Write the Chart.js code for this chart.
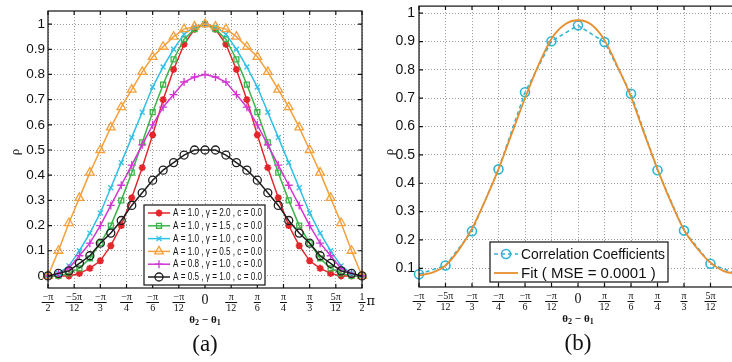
<!DOCTYPE html>
<html>
<head>
<meta charset="utf-8">
<script src="https://cdn.jsdelivr.net/npm/chart.js@4.4.1/dist/chart.umd.min.js"></script>
<style>
  html, body { margin: 0; padding: 0; background: #fff; }
  #wrap { position: relative; width: 732px; height: 362px; overflow: hidden; }
  #chartA { position: absolute; left: 0; top: 0; }
  #chartB { position: absolute; left: 360px; top: 0; }
</style>
</head>
<body>
<div id="wrap">
  <canvas id="chartA" width="380" height="362"></canvas>
  <canvas id="chartB" width="390" height="362"></canvas>
</div>
<script>
// θ2 - θ1 in degrees, panel (a)
const thetaA = [-90, -84, -78, -72, -66, -60, -54, -48, -42, -36, -30, -24, -18, -12, -6, 0,
  6, 12, 18, 24, 30, 36, 42, 48, 54, 60, 66, 72, 78, 84, 90];
const rhoG20 = [0, 0, 0, 0.01, 0.03, 0.06, 0.12, 0.2, 0.31, 0.43, 0.56, 0.7, 0.82, 0.92, 0.98, 1,
  0.98, 0.92, 0.82, 0.7, 0.56, 0.43, 0.31, 0.2, 0.12, 0.06, 0.03, 0.01, 0, 0, 0];
const rhoG15 = [0, 0, 0.01, 0.03, 0.07, 0.13, 0.2, 0.3, 0.41, 0.53, 0.65, 0.76, 0.86, 0.94, 0.98, 1,
  0.98, 0.94, 0.86, 0.76, 0.65, 0.53, 0.41, 0.3, 0.2, 0.13, 0.07, 0.03, 0.01, 0, 0];
const rhoG10 = [0, 0.01, 0.04, 0.1, 0.17, 0.25, 0.35, 0.45, 0.55, 0.65, 0.75, 0.83, 0.9, 0.96, 0.99, 1,
  0.99, 0.96, 0.9, 0.83, 0.75, 0.65, 0.55, 0.45, 0.35, 0.25, 0.17, 0.1, 0.04, 0.01, 0];
const rhoG05 = [0, 0.1, 0.21, 0.31, 0.41, 0.5, 0.59, 0.67, 0.74, 0.81, 0.87, 0.91, 0.95, 0.98, 0.99, 1,
  0.99, 0.98, 0.95, 0.91, 0.87, 0.81, 0.74, 0.67, 0.59, 0.5, 0.41, 0.31, 0.21, 0.1, 0];
const rhoA08 = [0, 0.01, 0.03, 0.08, 0.13, 0.2, 0.28, 0.36, 0.44, 0.52, 0.6, 0.67, 0.72, 0.77, 0.79, 0.8,
  0.79, 0.77, 0.72, 0.67, 0.6, 0.52, 0.44, 0.36, 0.28, 0.2, 0.13, 0.08, 0.03, 0.01, 0];
const rhoA05 = [0, 0.01, 0.02, 0.05, 0.08, 0.13, 0.17, 0.22, 0.28, 0.33, 0.38, 0.42, 0.45, 0.48, 0.5, 0.5,
  0.5, 0.48, 0.45, 0.42, 0.38, 0.33, 0.28, 0.22, 0.17, 0.13, 0.08, 0.05, 0.02, 0.01, 0];
const labelsA = [
  'A = 1.0 , γ = 2.0 , c = 0.0',
  'A = 1.0 , γ = 1.5 , c = 0.0',
  'A = 1.0 , γ = 1.0 , c = 0.0',
  'A = 1.0 , γ = 0.5 , c = 0.0',
  'A = 0.8 , γ = 1.0 , c = 0.0',
  'A = 0.5 , γ = 1.0 , c = 0.0'
];

// panel (b)
const thetaB = [-90, -75, -60, -45, -30, -15, 0, 15, 30, 45, 60, 75, 90];
const corrCoef = [0.079, 0.11, 0.231, 0.449, 0.721, 0.901, 0.957, 0.898, 0.716, 0.446, 0.233, 0.116, 0.08];
const thetaFit = [-90, -82.5, -75, -67.5, -60, -52.5, -45, -37.5, -30, -22.5, -15, -7.5, 0,
  7.5, 15, 22.5, 30, 37.5, 45, 52.5, 60, 67.5, 75, 82.5, 90];
const fitVals = [0.075, 0.085, 0.11, 0.165, 0.24, 0.34, 0.45, 0.575, 0.7, 0.815, 0.91, 0.96, 0.975,
  0.96, 0.905, 0.81, 0.705, 0.575, 0.45, 0.335, 0.235, 0.17, 0.12, 0.09, 0.08];
const labelsB = ['Correlation Coefficients', 'Fit ( MSE = 0.0001 )'];

// axis ticks
const tickDeg = [-90, -75, -60, -45, -30, -15, 0, 15, 30, 45, 60, 75, 90];
const tickNum = ['−π', '−5π', '−π', '−π', '−π', '−π', '0', 'π', 'π', 'π', 'π', '5π', '1'];
const tickDen = ['2', '12', '3', '4', '6', '12', '', '12', '6', '4', '3', '12', '2'];
const yTicksA = [0, 0.1, 0.2, 0.3, 0.4, 0.5, 0.6, 0.7, 0.8, 0.9, 1];
const yTicksB = [0.1, 0.2, 0.3, 0.4, 0.5, 0.6, 0.7, 0.8, 0.9, 1];

const pts = (xs, ys) => xs.map((x, i) => ({ x: x, y: ys[i] }));

// frame, inward ticks, fraction labels, titles and the boxed legend
const panelDeco = {
  id: 'panelDeco',
  afterDraw(chart, args, o) {
    const ctx = chart.ctx, a = chart.chartArea;
    const xs = chart.scales.x, ys = chart.scales.y;
    ctx.save();
    ctx.strokeStyle = '#111';
    ctx.lineWidth = 1.2;
    ctx.strokeRect(a.left, a.top, a.right - a.left, a.bottom - a.top);
    ctx.beginPath();
    tickDeg.forEach(d => {
      const p = xs.getPixelForValue(d);
      ctx.moveTo(p, a.bottom); ctx.lineTo(p, a.bottom - 4);
      ctx.moveTo(p, a.top); ctx.lineTo(p, a.top + 4);
    });
    o.yTicks.forEach(v => {
      const p = ys.getPixelForValue(v);
      ctx.moveTo(a.left, p); ctx.lineTo(a.left + 4, p);
      ctx.moveTo(a.right, p); ctx.lineTo(a.right - 4, p);
    });
    ctx.stroke();

    // x tick labels as fractions
    ctx.fillStyle = '#111';
    ctx.textAlign = 'center';
    ctx.textBaseline = 'middle';
    tickDeg.forEach((d, i) => {
      const p = xs.getPixelForValue(d);
      if (tickDen[i] === '') {
        ctx.font = '14px "Liberation Serif"';
        ctx.fillText(tickNum[i], p, a.bottom + 12);
        return;
      }
      ctx.font = '10px "Liberation Serif"';
      const w = Math.max(ctx.measureText(tickNum[i]).width, ctx.measureText(tickDen[i]).width) + 2;
      ctx.fillText(tickNum[i], p, a.bottom + 9);
      ctx.fillText(tickDen[i], p, a.bottom + 20.5);
      ctx.fillRect(p - w / 2, a.bottom + 14, w, 1);
      if (i === tickDeg.length - 1) {
        ctx.textAlign = 'left';
        ctx.font = '13px "DejaVu Serif"';
        ctx.fillText('π', p + w / 2 + 1, a.bottom + 14);
        ctx.textAlign = 'center';
      }
    });

    // axis title θ2 − θ1
    const x0 = xs.getPixelForValue(0), yT = a.bottom + 32;
    const parts = [['θ', 0, 11], ['2', 3, 8], [' − ', 0, 11], ['θ', 0, 11], ['1', 3, 8]];
    let tw = 0;
    parts.forEach(q => { ctx.font = 'bold ' + q[2] + 'px "Liberation Serif"'; tw += ctx.measureText(q[0]).width; });
    let cx = x0 - tw / 2;
    ctx.textAlign = 'left';
    parts.forEach(q => {
      ctx.font = 'bold ' + q[2] + 'px "Liberation Serif"';
      ctx.fillText(q[0], cx, yT + q[1]);
      cx += ctx.measureText(q[0]).width;
    });

    // panel letter
    ctx.textAlign = 'center';
    ctx.font = '23px "Liberation Serif"';
    ctx.fillText(o.letter, x0, a.bottom + 57);

    // rho label
    ctx.save();
    ctx.translate(o.rhoX, 152);
    ctx.rotate(-Math.PI / 2);
    ctx.font = '13px "Liberation Serif"';
    ctx.fillText('ρ', 0, 0);
    ctx.restore();

    // legend
    const L = o.legend;
    ctx.fillStyle = '#fff';
    ctx.fillRect(L.x, L.y, L.w, L.h);
    ctx.strokeStyle = '#111';
    ctx.lineWidth = 1.2;
    ctx.strokeRect(L.x, L.y, L.w, L.h);
    chart.data.datasets.forEach((ds, i) => {
      const y = L.y + L.row0 + i * L.step;
      ctx.strokeStyle = ds.borderColor;
      ctx.lineWidth = ds.borderWidth;
      ctx.setLineDash(ds.borderDash || []);
      ctx.beginPath();
      ctx.moveTo(L.x + 4, y);
      ctx.lineTo(L.x + 4 + L.sample, y);
      ctx.stroke();
      ctx.setLineDash([]);
      if (ds.pointRadius > 0) {
        ctx.fillStyle = ds.pointBackgroundColor;
        ctx.strokeStyle = ds.pointBorderColor;
        ctx.lineWidth = ds.pointBorderWidth;
        Chart.helpers.drawPoint(ctx, { pointStyle: ds.pointStyle, radius: ds.pointRadius, borderWidth: ds.pointBorderWidth, rotation: 0 },
          L.x + 4 + L.sample / 2, y);
      }
      ctx.fillStyle = '#111';
      ctx.textAlign = 'left';
      ctx.font = L.font;
      ctx.fillText(ds.label, L.x + 7 + L.sample, y + 0.5, L.w - L.sample - 10);
    });
    ctx.restore();
  }
};

function lineSet(label, data, color, style, radius, extra) {
  return Object.assign({
    label: label,
    data: data,
    borderColor: color,
    borderWidth: 1.5,
    pointStyle: style,
    pointRadius: radius,
    pointBorderColor: color,
    pointBackgroundColor: 'rgba(0,0,0,0)',
    pointBorderWidth: 1.3,
    tension: 0,
    clip: false
  }, extra || {});
}

function scalesFor(yMin, yMax, yTicks, yWidth, yPad, xHeight, tickFont) {
  return {
    x: {
      type: 'linear', min: -90, max: 90,
      afterBuildTicks: s => { s.ticks = tickDeg.map(v => ({ value: v })); },
      afterFit: s => { s.height = xHeight; s.paddingLeft = 0; s.paddingRight = 0; },
      ticks: { display: false },
      grid: { color: '#9a9a9a', lineWidth: 1, drawTicks: false },
      border: { display: false, dash: [1, 2] }
    },
    y: {
      min: yMin, max: yMax,
      afterBuildTicks: s => { s.ticks = yTicks.map(v => ({ value: v })); },
      afterFit: s => { s.width = yWidth; s.paddingTop = 0; s.paddingBottom = 0; },
      ticks: {
        padding: yPad, color: '#111',
        font: { family: '"Liberation Sans", Arial, sans-serif', size: tickFont },
        callback: v => String(v)
      },
      grid: { color: '#9a9a9a', lineWidth: 1, drawTicks: false },
      border: { display: false, dash: [1, 2] }
    }
  };
}

// panel (a)
new Chart(document.getElementById('chartA'), {
  type: 'line',
  data: {
    datasets: [
      lineSet(labelsA[0], pts(thetaA, rhoG20), '#e3262b', 'star', 3.5, { order: 5, pointBorderWidth: 2 }),
      lineSet(labelsA[1], pts(thetaA, rhoG15), '#3cb44a', 'rect', 3.5, { order: 4 }),
      lineSet(labelsA[2], pts(thetaA, rhoG10), '#2fc0e6', 'crossRot', 3.5, { order: 3 }),
      lineSet(labelsA[3], pts(thetaA, rhoG05), '#f5a03a', 'triangle', 5, { order: 2 }),
      lineSet(labelsA[4], pts(thetaA, rhoA08), '#d236d2', 'cross', 4, { order: 1 }),
      lineSet(labelsA[5], pts(thetaA, rhoA05), '#1e1e1e', 'circle', 4, { order: 0 })
    ]
  },
  options: {
    responsive: false,
    animation: false,
    devicePixelRatio: 1,
    events: [],
    layout: { padding: { left: 0, right: 18, top: 11, bottom: 0 } },
    scales: scalesFor(-0.048, 1.052, yTicksA, 48, 3, 74, 13.5),
    plugins: {
      legend: { display: false },
      tooltip: { enabled: false },
      panelDeco: {
        letter: '(a)', rhoX: 16, yTicks: yTicksA,
        legend: { x: 144, y: 205, w: 121, h: 80, row0: 8, step: 12.8, sample: 22, font: '10px "Liberation Sans"' }
      }
    }
  },
  plugins: [panelDeco]
});

// panel (b)
new Chart(document.getElementById('chartB'), {
  type: 'line',
  data: {
    datasets: [
      lineSet(labelsB[0], pts(thetaB, corrCoef), '#2cb5d6', 'circle', 4.5,
        { borderDash: [4, 3], pointBorderWidth: 1.6, order: 1 }),
      lineSet(labelsB[1], pts(thetaFit, fitVals), '#e88e2e', 'circle', 0,
        { borderWidth: 1.8, cubicInterpolationMode: 'monotone', order: 0 })
    ]
  },
  options: {
    responsive: false,
    animation: false,
    devicePixelRatio: 1,
    events: [],
    layout: { padding: { left: 0, right: 13, top: 4, bottom: 0 } },
    scales: scalesFor(0.034, 1.025, yTicksB, 59, 4, 75, 14),
    plugins: {
      legend: { display: false },
      tooltip: { enabled: false },
      panelDeco: {
        letter: '(b)', rhoX: 30, yTicks: yTicksB,
        legend: { x: 130, y: 242, w: 178, h: 40, row0: 12, step: 19, sample: 24, font: '15px "Liberation Sans"' }
      }
    }
  },
  plugins: [panelDeco]
});
</script>
</body>
</html>
